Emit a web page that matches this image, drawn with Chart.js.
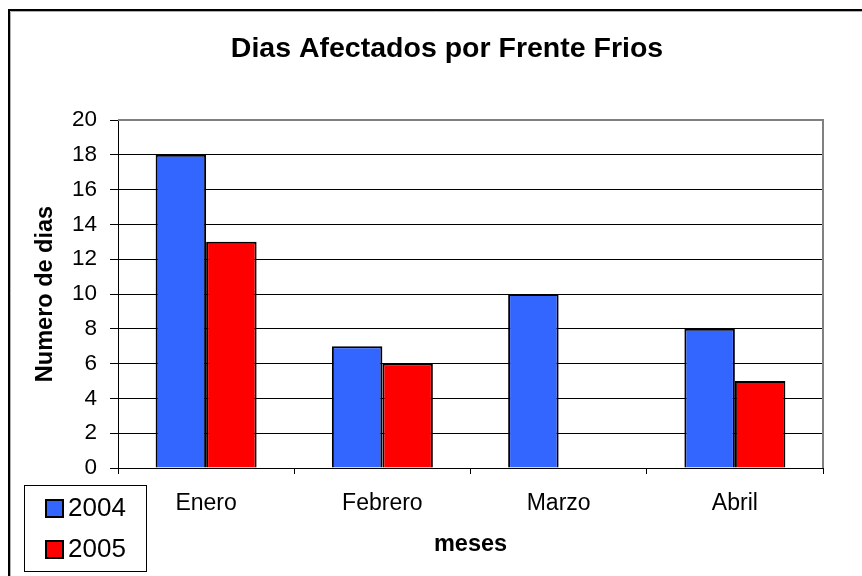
<!DOCTYPE html>
<html>
<head>
<meta charset="utf-8">
<title>Dias Afectados por Frente Frios</title>
<script src="https://cdn.jsdelivr.net/npm/chart.js@4"></script>
<style>
  body { margin: 0; background: #fff; }
</style>
</head>
<body>
<canvas id="grafico" width="862" height="576"></canvas>
<script>
// datos del grafico
const meses = ['Enero', 'Febrero', 'Marzo', 'Abril']
const dias2004 = [18, 7, 10, 8]
const dias2005 = [13, 6, null, 5]
const anios = ['2004', '2005']
const colores = ['#3366FF', '#FF0000']

const fuente = "'Liberation Sans', Arial, sans-serif"

// marco, titulo, borde gris del area y leyenda
const decorado = {
  id: 'decorado',
  beforeDraw(chart) {
    const c = chart.ctx
    c.save()
    c.fillStyle = '#fff'
    c.fillRect(0, 0, chart.width, chart.height)
    // marco exterior
    c.strokeStyle = '#000'
    c.lineWidth = 2
    c.beginPath()
    c.moveTo(9, chart.height); c.lineTo(9, 10); c.lineTo(chart.width, 10)
    c.stroke()
    c.strokeStyle = '#b0b0b0'
    c.lineWidth = 1
    c.beginPath()
    c.moveTo(10.5, chart.height); c.lineTo(10.5, 11.5); c.lineTo(chart.width, 11.5)
    c.stroke()
    // titulo
    c.fillStyle = '#000'
    c.font = 'bold 28.5px ' + fuente
    c.textAlign = 'center'
    c.textBaseline = 'middle'
    c.fillText('Dias Afectados por Frente Frios', 447, 49)
    c.restore()
  },
  afterDraw(chart) {
    const c = chart.ctx
    const a = chart.chartArea
    c.save()
    // borde gris arriba y a la derecha
    c.strokeStyle = '#808080'
    c.lineWidth = 2
    c.beginPath()
    c.moveTo(a.left, a.top); c.lineTo(a.right, a.top); c.lineTo(a.right, a.bottom)
    c.stroke()
    // leyenda
    c.fillStyle = '#fff'
    c.fillRect(24, 485, 122, 86)
    c.strokeStyle = '#000'
    c.lineWidth = 1
    c.strokeRect(24.5, 485.5, 122, 86)
    c.font = '26px ' + fuente
    c.textAlign = 'left'
    c.textBaseline = 'middle'
    chart.data.datasets.forEach((ds, i) => {
      const y = 508 + i * 41
      c.fillStyle = ds.backgroundColor
      c.fillRect(46, y - 8, 17, 17)
      c.strokeStyle = '#000'
      c.lineWidth = 2
      c.strokeRect(46, y - 8, 17, 17)
      c.fillStyle = '#000'
      c.fillText(ds.label, 68, y + 1)
    })
    c.restore()
  }
}

const ctx = document.getElementById('grafico')

new Chart(ctx, {
  type: 'bar',
  data: {
    labels: meses,
    datasets: [{
      label: anios[0],
      data: dias2004,
      backgroundColor: colores[0],
      borderColor: '#000',
      borderWidth: 2
    }, {
      label: anios[1],
      data: dias2005,
      backgroundColor: colores[1],
      borderColor: '#000',
      borderWidth: 2
    }]
  },
  options: {
    responsive: false,
    animation: false,
    devicePixelRatio: 1,
    categoryPercentage: 0.573,
    barPercentage: 1,
    layout: { padding: { top: 120, right: 39, left: 0, bottom: 0 } },
    plugins: {
      legend: { display: false },
      title: { display: false },
      tooltip: { enabled: false }
    },
    scales: {
      x: {
        afterFit: (s) => { s.height = 108 },
        border: { color: '#000', width: 1 },
        grid: { drawOnChartArea: false, drawTicks: true, tickLength: 6, color: '#000', offset: true },
        ticks: { color: '#000', padding: 16, font: { family: fuente, size: 23 } },
        title: {
          display: true,
          text: 'meses',
          color: '#000',
          font: { family: fuente, size: 23.5, weight: 'bold' },
          padding: { top: 0, bottom: 17 }
        }
      },
      y: {
        min: 0,
        max: 20,
        afterFit: (s) => { s.width = 118 },
        border: { color: '#000', width: 1 },
        grid: { color: '#000', tickLength: 8 },
        ticks: { stepSize: 2, color: '#000', padding: 13, font: { family: fuente, size: 22.5 } },
        title: {
          display: true,
          text: 'Numero de dias',
          color: '#000',
          font: { family: fuente, size: 23.5, weight: 'bold' },
          padding: { top: 31, bottom: 0 }
        }
      }
    }
  },
  plugins: [decorado]
})
</script>
</body>
</html>
